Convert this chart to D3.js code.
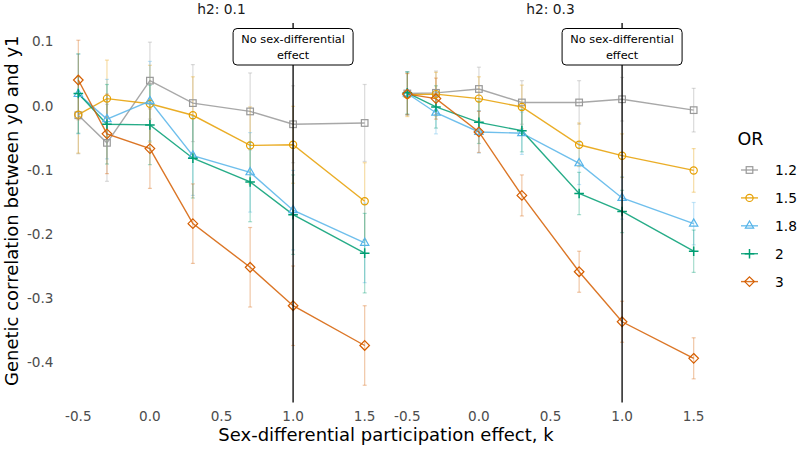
<!DOCTYPE html>
<html>
<head>
<meta charset="utf-8">
<script src="https://cdn.jsdelivr.net/npm/d3@7"></script>
<style>
  html, body { margin: 0; padding: 0; background: #fff; }
  svg { display: block; font-family: "DejaVu Sans", sans-serif; }
</style>
</head>
<body>
<svg id="chart" width="800" height="449"></svg>
<script>
// ---------------- data ----------------
const kValues = [-0.5, -0.3, 0.0, 0.3, 0.7, 1.0, 1.5];
const orLevels = ["1.2", "1.5", "1.8", "2", "3"];
const panelTitles = ["h2: 0.1", "h2: 0.3"];
const xTicks = [-0.5, 0.0, 0.5, 1.0, 1.5];
const yTicks = [0.1, 0.0, -0.1, -0.2, -0.3, -0.4];
const refK = 1.0;
const refLabel = ["No sex-differential", "effect"];

// mean genetic correlation, h2 = 0.1
const h2_01_or12 = [-0.015, -0.058, 0.039, 0.004, -0.009, -0.029, -0.027];
const h2_01_or15 = [-0.014, 0.011, 0.003, -0.015, -0.062, -0.061, -0.149];
const h2_01_or18 = [0.018, -0.021, 0.007, -0.078, -0.104, -0.163, -0.214];
const h2_01_or2  = [0.019, -0.029, -0.030, -0.082, -0.119, -0.170, -0.230];
const h2_01_or3  = [0.040, -0.044, -0.067, -0.184, -0.252, -0.312, -0.374];
// mean genetic correlation, h2 = 0.3
const h2_03_or12 = [0.019, 0.020, 0.026, 0.005, 0.005, 0.010, -0.007];
const h2_03_or15 = [0.017, 0.018, 0.011, -0.002, -0.061, -0.078, -0.101];
const h2_03_or18 = [0.019, -0.011, -0.041, -0.043, -0.090, -0.144, -0.184];
const h2_03_or2  = [0.020, -0.002, -0.026, -0.039, -0.137, -0.165, -0.227];
const h2_03_or3  = [0.018, 0.011, -0.041, -0.140, -0.259, -0.337, -0.394];
// error-bar half widths per OR level
const h2_01_err = [0.060, 0.060, 0.062, 0.062, 0.062];
const h2_03_err = [0.034, 0.034, 0.033, 0.033, 0.032];

// ---------------- build ----------------
const panelData = [
  { title: panelTitles[0], series: [h2_01_or12, h2_01_or15, h2_01_or18, h2_01_or2, h2_01_or3], err: h2_01_err },
  { title: panelTitles[1], series: [h2_03_or12, h2_03_or15, h2_03_or18, h2_03_or2, h2_03_or3], err: h2_03_err }
];

const colors = ["#999999", "#E69F00", "#56B4E9", "#009E73", "#D55E00"];
const shapes = ["square", "circle", "triangle", "plus", "diamond"];

const svg = d3.select("#chart");
const panelTop = 23, panelBottom = 402.5;
const panelX = [[64, 379], [393, 708]];

// y domain from data with 5% expansion
let lo = Infinity, hi = -Infinity;
panelData.forEach(p => p.series.forEach((s, i) => s.forEach(v => {
  lo = Math.min(lo, v - p.err[i]); hi = Math.max(hi, v + p.err[i]);
})));
const padY = (hi - lo) * 0.05;
const y = d3.scaleLinear().domain([lo - padY, hi + padY]).range([panelBottom, panelTop]);
const xDom = [kValues[0] - 0.1, kValues[kValues.length - 1] + 0.1];

function txt(sel, cy) {
  // vertically centre digits/caps on cy
  return sel.attr("y", cy).attr("dy", "0.36em");
}

function drawMarker(g, shape, color, cx, cy) {
  const sw = 1.2;
  if (shape === "square") {
    g.append("rect").attr("x", cx - 3.3).attr("y", cy - 3.3).attr("width", 6.6).attr("height", 6.6)
      .attr("fill", "none").attr("stroke", color).attr("stroke-width", sw);
  } else if (shape === "circle") {
    g.append("circle").attr("cx", cx).attr("cy", cy).attr("r", 3.6)
      .attr("fill", "none").attr("stroke", color).attr("stroke-width", sw);
  } else if (shape === "triangle") {
    const r = 4.8;
    const pts = [[cx, cy - r], [cx + r * 0.866, cy + r * 0.5], [cx - r * 0.866, cy + r * 0.5]];
    g.append("polygon").attr("points", pts.map(p => p.join(",")).join(" "))
      .attr("fill", "none").attr("stroke", color).attr("stroke-width", sw);
  } else if (shape === "plus") {
    const r = 4.8;
    g.append("path").attr("d", `M${cx - r},${cy}H${cx + r}M${cx},${cy - r}V${cy + r}`)
      .attr("stroke", color).attr("stroke-width", 1.5).attr("fill", "none");
  } else if (shape === "diamond") {
    const r = 4.8;
    g.append("polygon").attr("points", `${cx},${cy - r} ${cx + r},${cy} ${cx},${cy + r} ${cx - r},${cy}`)
      .attr("fill", "none").attr("stroke", color).attr("stroke-width", sw);
  }
}

panelData.forEach((p, pi) => {
  const x = d3.scaleLinear().domain(xDom).range(panelX[pi]);
  const g = svg.append("g");

  // facet title
  txt(g.append("text").attr("x", (panelX[pi][0] + panelX[pi][1]) / 2), 9.5)
    .attr("text-anchor", "middle")
    .attr("font-size", 13.8).attr("fill", "#1a1a1a").text(p.title);

  // x tick labels
  g.selectAll("text.xt").data(xTicks).enter().append("text")
    .attr("x", d => x(d)).attr("y", 416.5).attr("dy", "0.36em")
    .attr("text-anchor", "middle")
    .attr("font-size", 13.6).attr("fill", "#4d4d4d")
    .text(d => d3.format(".1f")(d).replace("−", "-"));

  // error bars
  p.series.forEach((s, si) => {
    const eg = g.append("g").attr("stroke", colors[si]).attr("stroke-opacity", 0.35).attr("stroke-width", 1.2);
    s.forEach((v, k) => {
      const cx = x(kValues[k]);
      const y1 = y(v + p.err[si]), y2 = y(v - p.err[si]);
      eg.append("line").attr("x1", cx).attr("x2", cx).attr("y1", y1).attr("y2", y2);
      eg.append("line").attr("x1", cx - 2).attr("x2", cx + 2).attr("y1", y1).attr("y2", y1);
      eg.append("line").attr("x1", cx - 2).attr("x2", cx + 2).attr("y1", y2).attr("y2", y2);
    });
  });

  // lines
  const line = d3.line().x((d, i) => x(kValues[i])).y(d => y(d));
  p.series.forEach((s, si) => {
    g.append("path").datum(s).attr("d", line)
      .attr("fill", "none").attr("stroke", colors[si]).attr("stroke-width", 1.4).attr("stroke-opacity", 0.85);
  });

  // points
  p.series.forEach((s, si) => {
    s.forEach((v, k) => drawMarker(g, shapes[si], colors[si], x(kValues[k]), y(v)));
  });

  // reference vertical line
  g.append("line").attr("x1", x(refK)).attr("x2", x(refK))
    .attr("y1", panelTop).attr("y2", panelBottom)
    .attr("stroke", "#000").attr("stroke-width", 1.3);

  // label box
  const bx = x(refK);
  g.append("rect").attr("x", bx - 60).attr("y", 28.5).attr("width", 120).attr("height", 36.5)
    .attr("rx", 4).attr("ry", 4).attr("fill", "#fff").attr("stroke", "#000").attr("stroke-width", 1);
  refLabel.forEach((t, li) => {
    txt(g.append("text").attr("x", bx), 39 + li * 16)
      .attr("text-anchor", "middle")
      .attr("font-size", 11.3).attr("fill", "#000").text(t);
  });
});

// y tick labels (left panel only)
svg.selectAll("text.yt").data(yTicks).enter().append("text")
  .attr("x", 53.5).attr("y", d => y(d)).attr("dy", "0.36em")
  .attr("text-anchor", "end")
  .attr("font-size", 13.6).attr("fill", "#4d4d4d")
  .text(d => d3.format(".1f")(d).replace("−", "-"));

// axis titles
txt(svg.append("text").attr("x", 386), 435)
  .attr("text-anchor", "middle")
  .attr("font-size", 18).attr("fill", "#000").text("Sex-differential participation effect, k");
svg.append("text").attr("transform", `translate(12,${(panelTop + panelBottom) / 2 - 2}) rotate(-90)`)
  .attr("dy", "0.36em")
  .attr("text-anchor", "middle")
  .attr("font-size", 18).attr("fill", "#000").text("Genetic correlation between y0 and y1");

// legend
const lg = svg.append("g");
txt(lg.append("text").attr("x", 737.5), 138.5)
  .attr("font-size", 17.5).attr("fill", "#000").text("OR");
orLevels.forEach((lab, i) => {
  const cy = 170 + i * 27.9;
  lg.append("line").attr("x1", 741).attr("x2", 758).attr("y1", cy).attr("y2", cy)
    .attr("stroke", colors[i]).attr("stroke-width", 1.4).attr("stroke-opacity", 0.85);
  drawMarker(lg, shapes[i], colors[i], 749.5, cy);
  txt(lg.append("text").attr("x", 775), cy)
    .attr("font-size", 13.8).attr("fill", "#000").text(lab);
});
</script>
</body>
</html>
